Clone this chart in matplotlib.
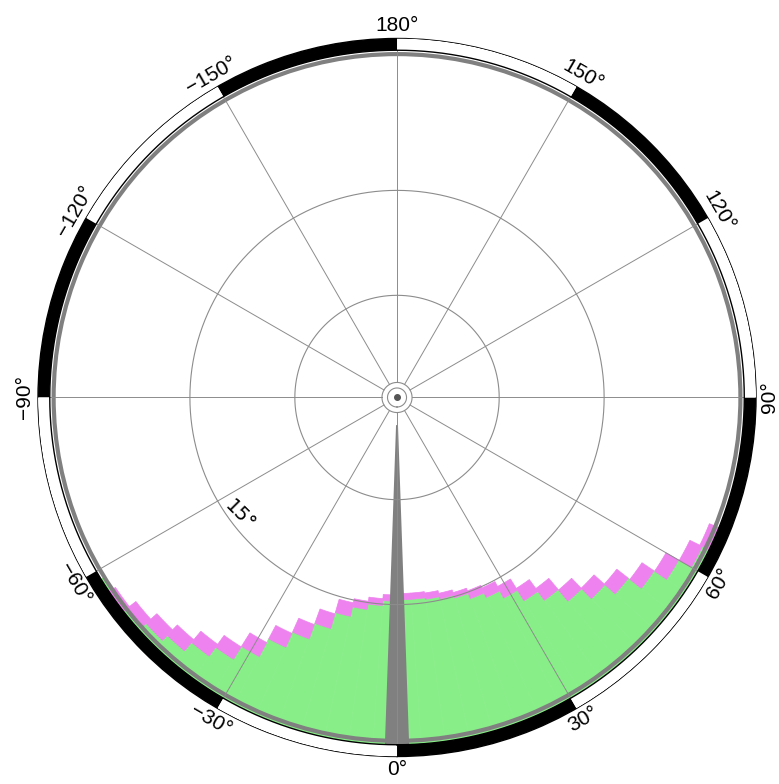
"""Polar plot: frame, grid, pink/green band and gray wedge."""
import matplotlib
matplotlib.use("Agg")
import matplotlib.pyplot as plt
import numpy as np

# Longitude bins (deg) and radial values (deg from pole)
bin_theta = [-54, -50, -46, -42, -38, -34, -30, -26, -22, -18, -14, -10, -6, -2,
             2, 6, 10, 14, 18, 22, 26, 30, 34, 38, 42, 46, 50, 54, 58, 62, 66]
pink_top = [24.6, 24.0, 23.4, 22.9, 22.1, 21.3, 20.1, 18.7, 17.5, 16.3, 15.2,
            14.9, 14.6, 14.3, 14.2, 14.2, 14.3, 14.5, 14.7, 14.9, 15.1, 15.5,
            16.3, 17.1, 18.2, 19.2, 20.2, 21.4, 22.5, 23.6, 24.4]
green_top = [25.1, 24.95, 24.45, 23.95, 23.15, 22.35, 21.25, 19.8, 18.6, 17.4,
             16.2, 15.5, 15.1, 14.75, 14.65, 14.65, 14.75, 14.9, 15.1, 15.5, 15.85,
             16.45, 17.35, 18.15, 19.25, 20.25, 21.25, 22.45, 23.55, 24.6, 25.1]

frame_ticks = [0, 30, 60, 90, 120, 150, 180, -150, -120, -90, -60, -30]
frame_labels = ["0°", "30°", "60°", "90°", "120°", "150°", "180°",
                "\u2212150°", "\u2212120°", "\u221290°", "\u221260°", "\u221230°"]
label_rot = [0, 30, 60, 90, -60, -30, 0, 30, 60, 90, -60, -30]
grid_circles = [0.69, 1.09, 7.4, 15.0]

R_DATA = 25.15   # inner frame circle
R_OUT = 26.0     # outer frame circle
GREEN = "#88EE88"
PINK = "#EE82EE"
GRAY = "#808080"

fig = plt.figure(figsize=(7.79, 7.84), dpi=100)
ax = fig.add_axes([0.0488, 0.0351, 0.9217, 0.9158], projection="polar")
ax.set_theta_zero_location("S")
ax.set_theta_direction(1)
ax.set_ylim(0, R_OUT)
ax.grid(False)
ax.set_xticks([])
ax.set_yticks([])
ax.spines["polar"].set_linewidth(1.0)

th = np.deg2rad(bin_theta)
w = np.deg2rad(4)
pt = np.array(pink_top)
gt = np.array(green_top)

# green area out to the edge, pink band on top of it
ax.bar(th, R_DATA - gt, bottom=gt, width=w, color=GREEN, edgecolor=GREEN,
       linewidth=0.5, zorder=1)
ax.bar(np.deg2rad(-57), R_DATA - 24.9, bottom=24.9, width=np.deg2rad(3),
       color=GREEN, linewidth=0, zorder=1)
ax.bar(th, gt - pt, bottom=pt, width=w, color=PINK, edgecolor=PINK,
       linewidth=0.5, zorder=2)

# gray ring just inside the frame
ax.bar(0, 0.3, bottom=24.72, width=2 * np.pi, color=GRAY, linewidth=0,
       zorder=3)

# gray wedge at 0 deg
ax.bar(0, R_DATA - 2.0, bottom=2.0, width=np.deg2rad(4), color=GRAY,
       linewidth=0, zorder=3)

# grid: spokes and circles
full = np.linspace(0, 2 * np.pi, 721)
for t in range(0, 360, 30):
    ax.plot([np.deg2rad(t)] * 2, [grid_circles[1], R_DATA], color="#8c8c8c",
            lw=0.7, zorder=4)
for rc in grid_circles:
    ax.plot(full, np.full_like(full, rc), color="#8c8c8c", lw=0.8, zorder=4)
ax.plot([0], [0], "o", color="#555555", ms=4, zorder=5)

# frame: alternating black/white 30 deg segments
seg_c = np.deg2rad(np.arange(15, 360, 30))
seg_col = ["black" if i % 2 == 0 else "white" for i in range(12)]
ax.bar(seg_c, R_OUT - R_DATA, bottom=R_DATA, width=np.deg2rad(30),
       color=seg_col, edgecolor="none", zorder=5)
ax.plot(full, np.full_like(full, R_DATA), color="black", lw=1.0, zorder=6)

for t, lab, rot in zip(frame_ticks, frame_labels, label_rot):
    ax.text(np.deg2rad(t), 26.95, lab, ha="center", va="center", rotation=rot,
            fontsize=15, family="Liberation Sans", clip_on=False,
            rotation_mode="anchor")

ax.text(np.deg2rad(-53), 14.2, "15°", ha="center", va="center", rotation=-45,
        fontsize=14, family="DejaVu Sans", rotation_mode="anchor")

fig.savefig("out.png", dpi=100)
